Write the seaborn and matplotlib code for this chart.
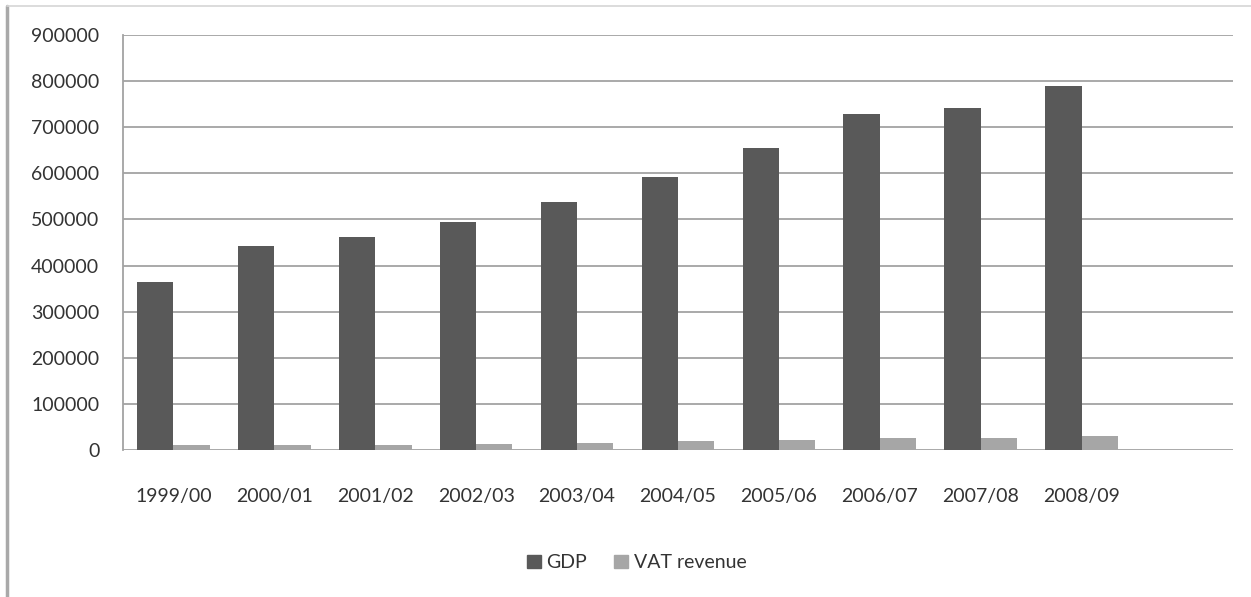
import matplotlib
matplotlib.use("Agg")
import matplotlib.pyplot as plt
from matplotlib.lines import Line2D
import pandas as pd
import seaborn as sns

years = ["1999/00", "2000/01", "2001/02", "2002/03", "2003/04",
         "2004/05", "2005/06", "2006/07", "2007/08", "2008/09"]
gdp = [364000, 442000, 462000, 495000, 538000,
       592000, 655000, 729000, 742000, 790000]
vat_revenue = [11000, 11000, 11000, 14000, 16000,
               19500, 22000, 27000, 27000, 31000]
series_names = ["GDP", "VAT revenue"]
y_ticks = [0, 100000, 200000, 300000, 400000, 500000,
           600000, 700000, 800000, 900000]

df = pd.DataFrame({
    "year": years * 2,
    "value": gdp + vat_revenue,
    "series": [series_names[0]] * len(years) + [series_names[1]] * len(years),
})

sns.set_theme(style="white")
plt.rcParams["font.family"] = ["Lato", "DejaVu Sans"]

text_color = "#333333"
grid_color = "#a3a3a3"
palette = {"GDP": "#595959", "VAT revenue": "#a6a6a6"}

fig = plt.figure(figsize=(12.51, 5.97), dpi=100)
ax = fig.add_axes([0.0983, 0.2462, 0.8873, 0.6952])

sns.barplot(data=df, x="year", y="value", hue="series", order=years,
            hue_order=series_names, palette=palette, width=0.72,
            saturation=1, linewidth=0, legend=False, ax=ax)

ax.set_ylim(0, 900000)
ax.set_xlim(-0.5, len(years) + 0.5)
ax.set_yticks(y_ticks)
ax.set_yticklabels([str(v) for v in y_ticks])
ax.yaxis.grid(True, color=grid_color, linewidth=1.3)
ax.set_axisbelow(True)
ax.set_xlabel("")
ax.set_ylabel("")

for side in ["top", "right", "bottom"]:
    ax.spines[side].set_visible(False)
ax.spines["left"].set_color(grid_color)
ax.spines["left"].set_linewidth(1.3)

ax.tick_params(axis="y", labelsize=14, labelcolor=text_color, length=4,
               color=grid_color, pad=13, width=1.3)
ax.tick_params(axis="x", labelsize=14, labelcolor=text_color, length=0, pad=27)

# legend below the plot
handles = [plt.Rectangle((0, 0), 1, 1, color=palette[s]) for s in series_names]
fig.legend(handles, series_names, loc="center", bbox_to_anchor=(0.509, 0.057),
           ncol=2, frameon=False, fontsize=14, handlelength=0.7,
           handleheight=0.7, handletextpad=0.3, columnspacing=1.4,
           labelcolor=text_color)

# outer frame lines of the chart area
fig.add_artist(Line2D([0.0056, 0.0056], [0, 0.99], transform=fig.transFigure,
                      color="#a9a9a9", linewidth=2.5))
fig.add_artist(Line2D([0.0056, 1.0], [0.99, 0.99], transform=fig.transFigure,
                      color="#d6d6d6", linewidth=1.2))

fig.savefig("out.png", dpi=100, facecolor="white")
